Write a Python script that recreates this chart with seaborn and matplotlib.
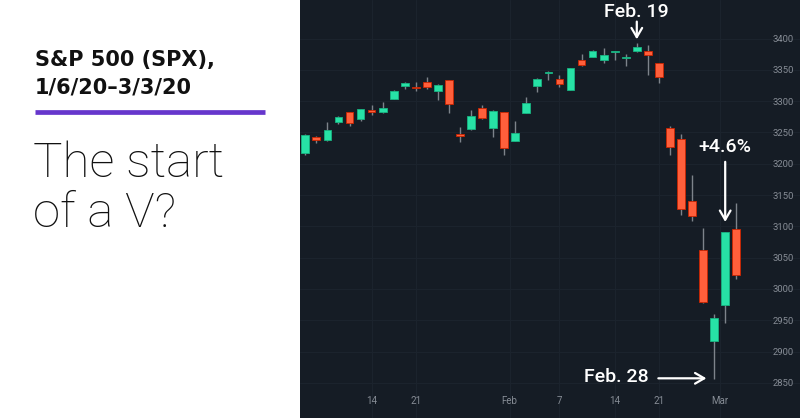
import matplotlib
matplotlib.use("Agg")
import matplotlib.pyplot as plt
import seaborn as sns
import pandas as pd
from matplotlib.lines import Line2D

# S&P 500 daily candles, Jan 6 - Mar 3 2020
dates = ["2020-01-06", "2020-01-07", "2020-01-08", "2020-01-09", "2020-01-10",
         "2020-01-13", "2020-01-14", "2020-01-15", "2020-01-16", "2020-01-17",
         "2020-01-21", "2020-01-22", "2020-01-23", "2020-01-24",
         "2020-01-27", "2020-01-28", "2020-01-29", "2020-01-30", "2020-01-31",
         "2020-02-03", "2020-02-04", "2020-02-05", "2020-02-06", "2020-02-07",
         "2020-02-10", "2020-02-11", "2020-02-12", "2020-02-13", "2020-02-14",
         "2020-02-18", "2020-02-19", "2020-02-20", "2020-02-21",
         "2020-02-24", "2020-02-25", "2020-02-26", "2020-02-27", "2020-02-28",
         "2020-03-02", "2020-03-03"]
opens = [3217.6, 3241.9, 3238.6, 3266.0, 3281.8, 3271.1, 3285.4, 3282.3, 3303.0, 3323.7,
         3321.0, 3330.0, 3315.8, 3333.1, 3247.2, 3255.4, 3289.5, 3256.5, 3282.3,
         3235.7, 3280.6, 3324.9, 3344.9, 3335.5, 3318.3, 3365.9, 3370.5, 3365.9, 3378.1,
         3369.0, 3380.4, 3380.5, 3360.5, 3257.6, 3238.9, 3139.9, 3062.5, 2916.9,
         2974.3, 3096.5]
highs = [3246.8, 3244.9, 3267.1, 3275.6, 3283.0, 3288.1, 3294.3, 3298.7, 3317.1, 3329.9,
         3329.8, 3337.8, 3326.9, 3333.2, 3258.9, 3285.8, 3293.5, 3285.9, 3282.3,
         3268.4, 3306.9, 3337.6, 3348.0, 3341.4, 3352.3, 3375.6, 3381.5, 3385.1, 3380.7,
         3375.0, 3393.5, 3389.2, 3360.8, 3259.8, 3247.0, 3182.5, 3097.1, 2959.7,
         3091.0, 3136.7]
lows = [3214.6, 3232.4, 3236.7, 3263.7, 3260.9, 3268.4, 3277.2, 3280.7, 3302.8, 3318.9,
        3316.6, 3320.0, 3301.9, 3281.5, 3234.5, 3253.2, 3271.9, 3242.8, 3214.7,
        3235.7, 3280.6, 3313.8, 3334.4, 3322.1, 3317.8, 3355.6, 3369.7, 3360.5, 3366.2,
        3355.6, 3378.8, 3341.0, 3328.5, 3214.7, 3118.8, 3109.0, 2977.4, 2855.8,
        2945.2, 3016.3]
closes = [3246.3, 3237.2, 3253.1, 3274.7, 3265.4, 3288.1, 3283.2, 3289.3, 3316.8, 3329.6,
          3320.8, 3321.8, 3325.5, 3295.5, 3243.6, 3276.2, 3273.4, 3283.7, 3225.5,
          3248.9, 3297.6, 3334.7, 3345.8, 3327.7, 3352.1, 3357.8, 3379.5, 3373.9, 3380.2,
          3370.3, 3386.2, 3373.2, 3337.8, 3225.9, 3128.2, 3116.4, 2978.8, 2954.2,
          3090.2, 3022.2]

price_ticks = [2850, 2900, 2950, 3000, 3050, 3100, 3150, 3200, 3250, 3300, 3350, 3400]
date_ticks = ["2020-01-14", "2020-01-21", "2020-02-03", "2020-02-07",
              "2020-02-14", "2020-02-21", "2020-03-02"]
date_tick_labels = ["14", "21", "Feb", "7", "14", "21", "Mar"]

df = pd.DataFrame({"date": dates, "open": opens, "high": highs, "low": lows, "close": closes})
df["i"] = range(len(df))
df["up"] = df["close"] >= df["open"]

BG = "#151c25"
GREEN = "#27e2a6"
RED = "#ff5f3b"
GRID = "#1b232d"
TICK = "#868c95"

sns.set_theme(style="dark", rc={"axes.facecolor": BG, "figure.facecolor": "white"})
plt.rcParams["font.family"] = ["Roboto", "DejaVu Sans"]

fig = plt.figure(figsize=(8, 4.18), dpi=100)
ax = fig.add_axes([300 / 800, 0, 500 / 800, 1])
ax.set_facecolor(BG)

# wicks
ax.vlines(df["i"], df["low"], df["high"], color="#7d838b", lw=1, zorder=2)
# bodies
colors = [GREEN if u else RED for u in df["up"]]
ax.bar(df["i"], (df["close"] - df["open"]).abs().clip(lower=1.2),
       bottom=df[["open", "close"]].min(axis=1), width=0.7,
       color=colors, edgecolor=[sns.set_hls_values(c, l=0.4) for c in colors],
       linewidth=0.6, zorder=3)

ax.set_xlim(-0.48, 44.77)
ax.set_ylim(2793.8, 3461.5)

# month labels sit between the last bar of one month and the first of the next
pos = {d: k for k, d in enumerate(dates)}
xt = [pos[d] - (0.5 if lab in ("Feb", "Mar") else 0) for d, lab in zip(date_ticks, date_tick_labels)]
ax.set_xticks(xt, date_tick_labels)
ax.set_yticks(price_ticks, [str(p) for p in price_ticks])
ax.grid(True, color=GRID, lw=0.8)
ax.tick_params(axis="x", direction="in", length=0, pad=-16, labelsize=7, labelcolor=TICK)
ax.tick_params(axis="y", direction="in", length=0, pad=-19.5, labelsize=6.8, labelcolor=TICK,
               labelleft=False, labelright=True)
for s in ax.spines.values():
    s.set_visible(False)

arrow = dict(arrowstyle="->,head_length=0.55,head_width=0.32", color="white", lw=1.6,
             shrinkA=0, shrinkB=0)
note = dict(color="white", fontsize=14, fontweight="medium", va="center")
i19 = pos["2020-02-19"]
ax.text(i19, 3442, "Feb. 19", ha="center", **note)
ax.annotate("", xy=(i19, 3398.7), xytext=(i19, 3427), arrowprops=arrow)

i_m2 = pos["2020-03-02"]
ax.text(i_m2, 3226, "+4.6%", ha="center", **note)
ax.annotate("", xy=(i_m2, 3107), xytext=(i_m2, 3203), arrowprops=arrow)

i28 = pos["2020-02-28"]
ax.text(31.1, 2859.7, "Feb. 28", ha="right", **note)
ax.annotate("", xy=(i28 - 0.7, 2857.2), xytext=(31.95, 2857.2), arrowprops=arrow)

# left panel
H = 418
fig.text(35 / 800, 1 - 65.7 / H, "S&P 500 (SPX),", fontsize=15, fontweight="bold",
         family="DejaVu Sans", color="#111111", va="baseline")
fig.text(35 / 800, 1 - 93.3 / H, "1/6/20\u20133/3/20", fontsize=15, fontweight="bold",
         family="DejaVu Sans", color="#111111", va="baseline")
fig.add_artist(Line2D([35 / 800, 265 / 800], [1 - 111.5 / H, 1 - 111.5 / H],
                      color="#6636cc", lw=3.4, solid_capstyle="butt"))
fig.text(33 / 800, 1 - 176.7 / H, "The start", fontsize=35.5, fontweight="light",
         color="#111111", va="baseline")
fig.text(33 / 800, 1 - 227.3 / H, "of a V?", fontsize=35.5, fontweight="light",
         color="#111111", va="baseline")

fig.savefig("out.png", dpi=100)
